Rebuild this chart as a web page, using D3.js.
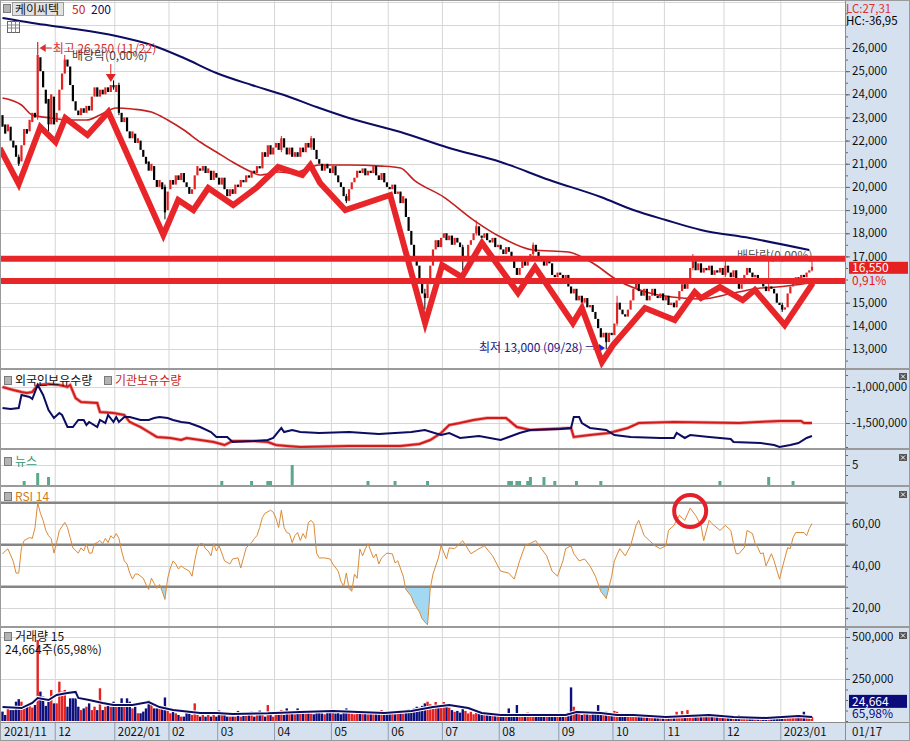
<!DOCTYPE html>
<html>
<head>
<meta charset="utf-8">
<script src="https://cdn.jsdelivr.net/npm/d3@7"></script>
<style>
body { margin: 0; background: #fff; }
</style>
</head>
<body>
<script>
// ---- data ----
var monthLabels = ["2021/11","12","2022/01","02","03","04","05","06","07","08","09","10","11","12","2023/01"];
var monthStarts = [0,20,42,62,80,101,122,143,163,184,206,226,245,267,288];

// daily [open, close], won
var nov21 = [[23100,22600],[22700,22300],[22400,22700],[22600,22000],[22000,21700],[21800,21300],[21300,21000],[21100,21800],[21800,22500],[22500,22300],[22400,22900],[22800,23200],[23200,23000],[23000,25700],[25600,25000],[25000,24300],[24200,23600],[23800,22700],[22700,24000],[23900,22700]];
var dec21 = [[22800,23200],[23300,24200],[24200,24900],[24900,25500],[25500,25200],[25200,24400],[24400,23700],[23700,23300],[23300,23100],[23100,23400],[23400,23200],[23200,23500],[23500,23300],[23300,23900],[23900,24300],[24300,23900],[23900,24200],[24200,24000],[24000,24300],[24300,24100],[24100,24400],[24400,24300]];
var jan22 = [[24100,24400],[24400,23200],[23200,22800],[22800,23000],[23000,22400],[22400,22100],[22100,22400],[22300,21900],[21900,22100],[22000,21600],[21600,21300],[21300,21000],[21100,20700],[20700,21000],[20900,20300],[20300,20000],[20000,20300],[20200,19900],[20000,18900],[19000,19800]];
var feb22 = [[19900,20300],[20300,20100],[20100,20500],[20500,20300],[20300,20600],[20600,20200],[20200,20000],[20000,19700],[19700,19900],[19900,20500],[20500,20900],[20800,20700],[20700,20900],[20900,20600],[20600,20800],[20700,20300],[20300,20700],[20600,20400]];
var mar22 = [[20400,20100],[20100,20400],[20400,19900],[19900,19600],[19600,19900],[19900,19700],[19700,20100],[20100,20000],[20000,20300],[20300,20200],[20200,20500],[20500,20400],[20400,20700],[20700,20600],[20600,20900],[20900,20800],[20800,21500],[21500,21300],[21300,21800],[21800,21400],[21400,21700]];
var apr22 = [[21700,21900],[21900,21600],[21600,22100],[22100,21700],[21700,21400],[21400,21700],[21700,21300],[21300,21500],[21500,21300],[21300,21700],[21700,21500],[21500,21900],[21900,21700],[21700,22100],[22100,21600],[21600,21200],[21200,21000],[21000,20700],[20700,21000],[21000,20800],[20800,20600]];
var may22 = [[20600,20900],[20900,20500],[20500,20200],[20200,20000],[20000,19600],[19600,19400],[19400,19900],[19900,20200],[20200,20400],[20400,20700],[20700,20600],[20600,20800],[20800,20500],[20500,20700],[20700,20600],[20600,20900],[20900,20500],[20500,20300],[20300,20600],[20600,20200],[20200,20000]];
var jun22 = [[20000,19900],[19900,20100],[20100,19700],[19700,19800],[19800,19300],[19300,19600],[19500,18700],[18700,18100],[18100,17500],[17500,17000],[17000,16600],[16600,16000],[16000,15400],[15400,15200],[15200,15800],[15800,16600],[16600,17300],[17300,17700],[17700,17400],[17400,17800]];
var jul22 = [[17800,18000],[18000,17700],[17700,17900],[17900,17500],[17500,17800],[17800,17600],[17600,17400],[17400,16800],[16800,16900],[16900,17500],[17500,17700],[17700,18000],[18000,18300],[18300,17900],[17900,17800],[17800,18000],[18000,17700],[17700,17600],[17600,17800],[17800,17400],[17400,17500]];
var aug22 = [[17500,17300],[17300,17100],[17100,17400],[17400,17200],[17200,16900],[16900,16500],[16500,16200],[16200,16500],[16500,16800],[16800,16600],[16600,16900],[16900,17100],[17100,17500],[17500,17200],[17200,17000],[17000,16800],[16800,16600],[16600,16900],[16900,16700],[16700,16200],[16200,16100],[16100,16300]];
var sep22 = [[16300,16200],[16200,16000],[16000,16200],[16200,15700],[15700,15400],[15400,15600],[15600,15100],[15100,15300],[15300,15000],[15000,15200],[15200,14800],[14800,14900],[14900,14600],[14600,14300],[14300,13900],[13900,13500],[13500,13700],[13700,13300],[13300,13700],[13700,13600]];
var oct22 = [[13600,14100],[14100,15000],[15000,14700],[14700,14500],[14500,14400],[14400,14700],[14700,15100],[15100,15600],[15600,15900],[15900,15500],[15500,15300],[15300,15600],[15600,15100],[15100,15300],[15300,15600],[15600,15300],[15300,15200],[15200,15400],[15400,15100]];
var nov22 = [[15100,15300],[15300,14900],[14900,15000],[15000,14800],[14800,15100],[15100,15500],[15500,15800],[15800,15600],[15600,16000],[16000,16500],[16500,16900],[16900,16400],[16400,16700],[16700,16300],[16300,16500],[16500,16400],[16400,16600],[16600,16200],[16200,16400],[16400,16300],[16300,16500],[16500,16200]];
var dec22 = [[16200,16600],[16600,16300],[16300,16100],[16100,16400],[16400,16000],[16000,15600],[15600,15800],[15800,16200],[16200,16500],[16500,16300],[16300,16100],[16100,16200],[16200,15900],[15900,16000],[16000,15700],[15700,15500],[15500,15700],[15700,15600],[15600,15400],[15400,15000],[15000,14900]];
var jan23 = [[14900,14700],[14700,14800],[14800,15400],[15400,15700],[15700,15900],[15900,16100],[16100,16000],[16000,16200],[16200,16100],[16100,16300],[16300,16400],[16400,16550]];

// [day, high, low] for the days with visible shadows
var wicks = [[6,21400,20900],[13,26250,22900],[17,23800,22400],[23,25700,24900],[41,24600,24200],[43,24500,23100],[60,20100,18600],[103,22200,21500],[114,22200,21600],[127,19700,19300],[156,15600,14700],[170,17500,16400],[175,18550,17900],[196,17600,17000],[223,13700,13000],[227,15300,14000],[255,17100,16400],[267,16900,16100],[283,16800,15500],[288,15000,14600],[299,16800,16350]];

// daily volume, thousands of shares
var vNov21 = [56,36,85,65,65,115,130,115,80,95,95,80,95,482,175,145,90,115,185,105];
var vDec21 = [105,234,175,185,85,135,135,135,85,65,75,85,105,65,85,65,195,65,85,95,85,115];
var vJan22 = [95,95,135,95,135,115,75,85,46,46,56,75,125,95,75,75,95,75,140,65];
var vFeb22 = [46,56,46,36,26,26,56,46,36,105,36,26,36,26,46,26,36,26];
var vMar22 = [62,36,36,26,26,26,26,60,26,30,30,36,56,26,36,62,36,26,95,36,26];
var vApr22 = [56,36,65,36,75,45,50,40,75,45,55,50,60,45,40,50,55,45,40,50,60];
var vMay22 = [60,45,55,40,50,75,55,45,40,50,60,45,50,40,55,45,50,40,65,45,50];
var vJun22 = [45,55,40,50,65,45,60,70,65,75,85,80,90,105,115,100,95,113,85,90];
var vJul22 = [113,95,80,65,55,60,50,75,60,45,55,40,50,65,45,40,50,36,45,40,36];
var vAug22 = [36,45,40,75,40,36,95,45,40,36,50,45,40,36,45,40,36,45,40,36,40,45];
var vSep22 = [40,36,45,50,200,85,45,40,36,45,40,36,45,50,95,50,45,55,40,45];
var vOct22 = [60,55,40,36,30,35,40,30,36,30,25,30,28,25,30,26,24,30,25];
var vNov22 = [25,30,28,26,55,35,60,30,65,40,35,30,28,36,30,40,28,25,30,26,28,25];
var vDec22 = [28,26,24,30,26,36,28,25,26,24,28,25,22,26,24,25,22,28,24,26,25];
var vJan23 = [30,26,28,25,30,28,26,24,55,26,30,24.664];

// [day, value] readings of the indicator lines
var ma50 = [[0,23840],[7,23538],[11,23106],[18,22976],[24,22890],[31,22890],[36,23106],[42,23408],[48,23365],[55,23235],[61,22890],[67,22458],[73,21939],[79,21507],[85,21075],[92,20643],[95,20514],[102,20643],[107,20600],[114,20859],[117,20946],[128,20946],[140,20900],[147,20816],[152,20298],[163,19563],[174,18570],[184,17835],[196,17274],[209,17187],[218,16712],[227,15978],[239,15416],[251,15200],[258,15157],[270,15416],[280,15632],[286,15675],[298,15848]];
var ma200 = [[0,27296],[11,27080],[24,26864],[42,26518],[55,26130],[67,25568],[79,24920],[92,24402],[104,23970],[116,23451],[128,22976],[147,22371],[165,21680],[184,21075],[202,20298],[221,19563],[233,19002],[245,18570],[258,18138],[276,17792],[298,17274]];
var volMa = [[0,83],[7,77],[11,107],[13,137],[17,125],[20,155],[24,167],[27,173],[28,137],[32,125],[37,107],[41,95],[48,95],[54,113],[58,83],[63,65],[73,48],[79,48],[85,42],[98,46],[110,54],[122,60],[141,48],[151,60],[159,83],[165,95],[172,77],[177,48],[184,36],[196,36],[208,36],[212,54],[221,48],[227,36],[233,36],[245,24],[261,36],[270,24],[282,18],[294,30],[299,24]];
var rsi = [[0,45.6],[1,47],[2,48],[4,42],[5,36.5],[6,36.5],[7,48.5],[8,52],[10,53.4],[11,53],[12,58],[13,70],[14,65],[15,61.6],[16,56.8],[17,54.3],[18,52.9],[19,46],[20,51],[21,56.8],[23,60.6],[24,58.2],[25,53.4],[26,48.5],[28,46],[29,48.5],[30,47],[31,50.5],[32,46],[33,46],[34,50.5],[35,51],[36,52],[37,50.5],[38,53],[39,51],[40,54.3],[41,53],[42,55.3],[43,53],[44,47],[45,42.3],[46,40.8],[47,36.5],[48,33.6],[49,36],[50,36],[52,34],[53,31],[54,28.7],[55,34],[56,31.6],[57,29.2],[58,31],[59,27.8],[60,23.9],[61,34],[62,38.9],[63,42.3],[64,40.8],[65,38.4],[66,39.9],[67,38.9],[69,37.4],[70,35],[71,42.3],[72,48.5],[73,50.5],[74,50.5],[75,48],[76,47],[77,44.7],[78,50.5],[79,47],[80,49.5],[81,46],[82,42.3],[84,40.8],[85,43.2],[87,43.7],[88,38.9],[89,43.7],[90,48.5],[92,51],[93,52.9],[94,54.3],[95,58.2],[96,63],[97,65],[99,66.4],[100,65.5],[101,62.6],[102,58.2],[103,66.4],[104,58.2],[105,55.8],[106,55.3],[107,51],[108,54.3],[109,55.8],[110,52],[111,55.3],[112,53],[113,60.6],[114,61.6],[115,60],[116,46],[117,43.7],[119,43.7],[121,43.2],[122,40.8],[124,37.4],[125,32.6],[126,30.2],[127,36.5],[128,29.2],[129,27.8],[130,36],[131,34],[132,48],[133,44.7],[134,48],[135,50.5],[137,43.7],[138,45.6],[139,40.8],[140,43.7],[142,46],[144,45.6],[145,41.3],[146,42.3],[148,35],[149,28.7],[151,25.4],[152,22],[154,18],[155,14.7],[157,11.8],[158,29.2],[159,36],[161,43.7],[162,49.5],[164,43.2],[165,48.5],[167,48.1],[170,51.9],[173,45.7],[176,48.1],[178,49.5],[181,44.7],[184,37.4],[187,36.5],[189,33.6],[191,42.3],[193,49.5],[197,51.9],[199,48.1],[201,44.7],[203,37.4],[205,35],[207,42.3],[208,48.1],[210,49.5],[211,45.7],[213,42.3],[215,43.2],[217,39.9],[219,35],[221,27.8],[223,24.4],[225,35],[226,42.3],[228,48.1],[230,44.7],[232,49.5],[234,59.2],[235,61.6],[237,54.3],[239,51.9],[241,49.5],[243,48.1],[245,49.5],[246,56.8],[248,59.2],[250,64],[252,61.6],[254,67.4],[256,64],[258,59.2],[259,51.9],[261,61.6],[262,60.1],[265,56.8],[267,59.2],[269,56.8],[270,50.5],[271,45.7],[272,45.7],[274,48.6],[275,56.8],[277,55.3],[278,50.5],[279,48.6],[280,45.7],[281,46.1],[282,39.9],[284,45.7],[285,42.3],[287,33.6],[288,38.9],[290,48.6],[291,48.1],[292,53.4],[293,55.8],[296,55.8],[297,54.3],[298,57.7],[299,60.1]];
var foreignHold = [[0,-1292],[3,-1306],[6,-1292],[7,-1111],[10,-1139],[11,-1167],[13,-972],[15,-1111],[17,-1319],[19,-1431],[21,-1361],[22,-1389],[24,-1556],[26,-1556],[28,-1458],[30,-1458],[31,-1528],[32,-1486],[35,-1556],[36,-1458],[38,-1500],[39,-1389],[41,-1486],[42,-1417],[43,-1486],[45,-1417],[47,-1417],[51,-1458],[54,-1458],[56,-1431],[58,-1417],[61,-1431],[63,-1458],[66,-1486],[69,-1500],[73,-1556],[77,-1625],[79,-1694],[83,-1694],[85,-1764],[93,-1750],[98,-1736],[100,-1708],[103,-1569],[104,-1625],[107,-1597],[110,-1625],[117,-1639],[128,-1625],[139,-1653],[151,-1625],[156,-1597],[162,-1667],[165,-1639],[169,-1708],[176,-1681],[184,-1736],[187,-1694],[191,-1639],[195,-1597],[206,-1583],[210,-1569],[211,-1417],[213,-1417],[214,-1500],[217,-1569],[223,-1597],[226,-1667],[232,-1694],[243,-1708],[248,-1708],[249,-1639],[252,-1708],[254,-1667],[261,-1694],[269,-1722],[270,-1764],[280,-1778],[285,-1806],[287,-1833],[291,-1806],[294,-1778],[297,-1708],[299,-1681]];
var instHold = [[0,-1000],[4,-1042],[7,-1069],[9,-1083],[11,-1069],[13,-972],[17,-958],[21,-972],[24,-1000],[25,-972],[27,-1153],[29,-1208],[35,-1222],[36,-1347],[41,-1361],[45,-1389],[47,-1486],[51,-1556],[54,-1625],[57,-1694],[62,-1708],[66,-1736],[68,-1708],[73,-1736],[78,-1764],[82,-1806],[85,-1750],[93,-1750],[98,-1764],[101,-1806],[105,-1819],[110,-1833],[128,-1819],[147,-1819],[154,-1792],[158,-1736],[162,-1639],[165,-1528],[169,-1500],[174,-1458],[179,-1431],[186,-1431],[190,-1556],[195,-1597],[202,-1583],[210,-1569],[211,-1694],[217,-1667],[224,-1639],[231,-1569],[235,-1500],[248,-1486],[272,-1500],[279,-1486],[287,-1472],[295,-1472],[296,-1500],[299,-1500]];
var news = [[8,1],[13,3],[17,2],[81,1],[92,1],[98,1],[99,1],[107,5],[135,1],[145,1],[157,1],[187,1],[188,1],[190,1],[191,1],[194,1],[195,2],[200,2],[204,1],[212,1],[221,1],[265,1],[283,2],[292,1]];

// hand-drawn red annotations: [day, price]
var zigzag = [[-1,21680],[6,20125],[14,22587],[19.6,21939],[23.2,22976],[31.4,22242],[39.1,23235],[59.4,17922],[64.9,19434],[70.5,19002],[76,19952],[85.2,19218],[94.1,19995],[101.8,20859],[110.7,20514],[113.7,20946],[117.3,20168],[126.6,19002],[143.2,19650],[156.1,14120],[162.4,16626],[169.7,16107],[177.1,17576],[190.4,15416],[196.7,16539],[210.7,14120],[214,14768],[221.4,12435],[225.5,13170],[237.3,14768],[248.3,14250],[255.7,15459],[258,15200],[265,15675],[273.4,15114],[277.9,15546],[288.9,14034],[299.3,15848]];
var levels = [16900, 15940];
// 27,000 and 16,000 are hidden behind the value tags in the picture
var priceTicks = [13000,14000,15000,17000,18000,19000,20000,21000,22000,23000,24000,25000,26000];

// ---- layout ----
var W = 910, H = 741, AX = 845;
var FONT = "'Noto Sans CJK KR','Noto Sans',sans-serif";
var RED = "#e42222", NAVY = "#0c0c62", AXBG = "#d6e1ef", GRID = "#d6d6d6";

var x = d3.scaleLinear().domain([0, 299]).range([2.5, 812]);
var yMain = d3.scaleLinear().domain([26000, 13000]).range([48, 349]);
var yFor = d3.scaleLinear().domain([-1000, -1500]).range([387, 423]);
var yNews = d3.scaleLinear().domain([0, 5]).range([485, 465]);
var yRsi = d3.scaleLinear().domain([70, 30]).range([502.7, 586.7]);
var yVol = d3.scaleLinear().domain([0, 500]).range([721, 637]);

var candles = [].concat(nov21, dec21, jan22, feb22, mar22, apr22, may22, jun22, jul22, aug22, sep22, oct22, nov22, dec22, jan23);
var volume = [].concat(vNov21, vDec21, vJan22, vFeb22, vMar22, vApr22, vMay22, vJun22, vJul22, vAug22, vSep22, vOct22, vNov22, vDec22, vJan23);
var wickMap = {};
wicks.forEach(function(w) { wickMap[w[0]] = w; });
var days = candles.map(function(c, i) {
    var w = wickMap[i];
    return { i: i, o: c[0], c: c[1], v: volume[i],
        h: w ? w[1] : Math.max(c[0], c[1]), l: w ? w[2] : Math.min(c[0], c[1]) };
});

var svg = d3.select("body").append("svg")
    .attr("width", W).attr("height", H)
    .style("font-family", FONT).style("font-size", "12px");

svg.append("rect").attr("width", W).attr("height", H).attr("fill", "#fff");
svg.append("rect").attr("x", AX).attr("y", 0).attr("width", W - AX).attr("height", H).attr("fill", AXBG);
svg.append("rect").attr("x", 0).attr("y", 722).attr("width", W).attr("height", 19).attr("fill", AXBG);

var panels = [
    { name: "main", y0: 0, y1: 369 },
    { name: "foreign", y0: 370, y1: 449 },
    { name: "news", y0: 450, y1: 486 },
    { name: "rsi", y0: 487, y1: 627 },
    { name: "vol", y0: 628, y1: 722 }
];
var defs = svg.append("defs");
panels.forEach(function(p) {
    defs.append("clipPath").attr("id", "clip-" + p.name)
        .append("rect").attr("x", 0).attr("y", p.y0).attr("width", AX).attr("height", p.y1 - p.y0);
});
function layer(name) { return svg.append("g").attr("clip-path", "url(#clip-" + name + ")"); }

// vertical month grid
var gridX = monthStarts.map(function(s) { return x(s) - 1.4; });
svg.append("g").selectAll("line").data(gridX.slice(1)).join("line")
    .attr("x1", function(d) { return d; }).attr("x2", function(d) { return d; })
    .attr("y1", 0).attr("y2", 722).attr("stroke", GRID);

function hgrid(g, scale, vals) {
    g.selectAll(null).data(vals).join("line")
        .attr("x1", 0).attr("x2", AX)
        .attr("y1", function(d) { return Math.round(scale(d)) + 0.5; })
        .attr("y2", function(d) { return Math.round(scale(d)) + 0.5; })
        .attr("stroke", GRID);
}

// ---- main panel ----
var gm = layer("main");
hgrid(gm, yMain, d3.range(13000, 28001, 1000));

var maLine = d3.line().x(function(d) { return x(d[0]); }).y(function(d) { return yMain(d[1]); }).curve(d3.curveMonotoneX);
gm.append("path").attr("d", maLine(ma200)).attr("fill", "none").attr("stroke", NAVY).attr("stroke-width", 2);
gm.append("path").attr("d", maLine(ma50)).attr("fill", "none").attr("stroke", "#c42020").attr("stroke-width", 1.6);

gm.selectAll("line.wick").data(days.filter(function(d) { return d.h > Math.max(d.o, d.c) || d.l < Math.min(d.o, d.c); }))
    .join("line").attr("class", "wick")
    .attr("x1", function(d) { return x(d.i); }).attr("x2", function(d) { return x(d.i); })
    .attr("y1", function(d) { return yMain(d.h); }).attr("y2", function(d) { return yMain(d.l); })
    .attr("stroke", function(d) { return d.c >= d.o ? RED : "#000"; });
gm.selectAll("rect.body").data(days).join("rect").attr("class", "body")
    .attr("x", function(d) { return x(d.i) - 1.1; }).attr("width", 2.2)
    .attr("y", function(d) { return yMain(Math.max(d.o, d.c)); })
    .attr("height", function(d) { return Math.max(1, Math.abs(yMain(d.o) - yMain(d.c))); })
    .attr("fill", function(d) { return d.c >= d.o ? RED : "#000"; });

// text annotations
gm.append("line").attr("x1", x(13)).attr("x2", x(13)).attr("y1", 42).attr("y2", 54).attr("stroke", "#d83030");
gm.append("path").attr("d", "M" + (x(13) + 2) + ",48 l6,-4 l0,8 z").attr("fill", "#d83030");
gm.append("line").attr("x1", x(13) + 6).attr("x2", x(13) + 14).attr("y1", 48).attr("y2", 48).attr("stroke", "#d83030");
gm.append("text").attr("x", x(13) + 15).attr("y", 52.5).attr("fill", "#d83030").text("최고 26,250 (11/22)");
gm.append("text").attr("x", 72).attr("y", 60).attr("fill", "#444").text("배당락(0,00%)");
gm.append("line").attr("x1", x(40)).attr("x2", x(40)).attr("y1", 64).attr("y2", 75).attr("stroke", RED);
gm.append("path").attr("d", "M" + (x(40) - 5) + ",74 l10,0 l-5,8 z").attr("fill", RED);
gm.append("text").attr("x", 479).attr("y", 352).attr("fill", "#20208a").text("최저 13,000 (09/28) →");
gm.append("path").attr("d", "M599,344 l6,4 l-6,4 z").attr("fill", "#1a2ad0");
gm.append("text").attr("x", 737).attr("y", 260).attr("fill", "#555").text("배당락(0,00%)");

// hand-drawn lines
var annLine = d3.line().x(function(d) { return x(d[0]); }).y(function(d) { return yMain(d[1]); });
gm.selectAll("line.level").data(levels).join("line").attr("class", "level")
    .attr("x1", 0).attr("x2", AX)
    .attr("y1", function(d) { return yMain(d); }).attr("y2", function(d) { return yMain(d); })
    .attr("stroke", "#e8262a").attr("stroke-width", 6);
gm.append("path").attr("d", annLine(zigzag)).attr("fill", "none")
    .attr("stroke", "#e8262a").attr("stroke-width", 6).attr("stroke-linejoin", "miter").attr("stroke-miterlimit", 6);

// ---- foreign / institution holdings ----
var gf = layer("foreign");
hgrid(gf, yFor, [-1000, -1500]);
var holdLine = d3.line().x(function(d) { return x(d[0]); }).y(function(d) { return yFor(d[1]); });
gf.append("path").attr("d", holdLine(instHold)).attr("fill", "none").attr("stroke", "#f2a0a0").attr("stroke-width", 3.5);
gf.append("path").attr("d", holdLine(instHold)).attr("fill", "none").attr("stroke", "#d21c1c").attr("stroke-width", 2);
gf.append("path").attr("d", holdLine(foreignHold)).attr("fill", "none").attr("stroke", NAVY).attr("stroke-width", 2);

// ---- news ----
var gn = layer("news");
hgrid(gn, yNews, [5]);
gn.selectAll("rect").data(news).join("rect")
    .attr("x", function(d) { return x(d[0]) - 1.5; }).attr("width", 3)
    .attr("y", function(d) { return yNews(d[1]); })
    .attr("height", function(d) { return yNews(0) - yNews(d[1]); })
    .attr("fill", "#5aa98a");

// ---- RSI ----
var gr = layer("rsi");
hgrid(gr, yRsi, [60, 40, 20]);
var rsiArea = d3.area().x(function(d) { return x(d[0]); }).y0(yRsi(30)).y1(function(d) { return yRsi(d[1]); });
defs.append("clipPath").attr("id", "clip-oversold").append("rect")
    .attr("x", 0).attr("y", yRsi(30)).attr("width", AX).attr("height", 627 - yRsi(30));
gr.append("path").attr("d", rsiArea(rsi)).attr("fill", "#a3d8f2").attr("clip-path", "url(#clip-oversold)");
gr.selectAll("line.lvl").data([70, 50, 30]).join("line").attr("class", "lvl")
    .attr("x1", 0).attr("x2", AX)
    .attr("y1", function(d) { return yRsi(d); }).attr("y2", function(d) { return yRsi(d); })
    .attr("stroke", "#858585").attr("stroke-width", 2.5);
var rsiLine = d3.line().x(function(d) { return x(d[0]); }).y(function(d) { return yRsi(d[1]); });
gr.append("path").attr("d", rsiLine(rsi)).attr("fill", "none").attr("stroke", "#dc8a36").attr("stroke-width", 1);
gr.append("circle").attr("cx", x(254)).attr("cy", yRsi(66)).attr("r", 16)
    .attr("fill", "none").attr("stroke", "#e4202a").attr("stroke-width", 4);

// ---- volume ----
var gv = layer("vol");
hgrid(gv, yVol, [500, 250]);
gv.selectAll("rect").data(days).join("rect")
    .attr("x", function(d) { return x(d.i) - 1.2; }).attr("width", 2.4)
    .attr("y", function(d) { return yVol(d.v); })
    .attr("height", function(d) { return yVol(0) - yVol(d.v); })
    .attr("fill", function(d) { return d.c >= d.o ? RED : "#10107c"; });
var volLine = d3.line().x(function(d) { return x(d[0]); }).y(function(d) { return yVol(d[1]); });
gv.append("path").attr("d", volLine(volMa)).attr("fill", "none").attr("stroke", "#fff").attr("stroke-width", 4);
gv.append("path").attr("d", volLine(volMa)).attr("fill", "none").attr("stroke", NAVY).attr("stroke-width", 2);

// ---- right axes ----
function rightAxis(scale, majors, minors, fmt) {
    var gmin = svg.append("g").attr("transform", "translate(" + AX + ",0)")
        .call(d3.axisRight(scale).tickValues(minors).tickSize(3).tickFormat(""));
    var gmaj = svg.append("g").attr("transform", "translate(" + AX + ",0)")
        .call(d3.axisRight(scale).tickValues(majors).tickSize(5).tickPadding(2).tickFormat(fmt));
    [gmin, gmaj].forEach(function(g) {
        g.select(".domain").remove();
        g.selectAll("line").attr("stroke", "#666");
        g.attr("font-family", FONT).attr("font-size", 11.5);
        g.selectAll("text").attr("fill", "#111");
    });
}
function comma(d) { return d3.format(",")(d).replace("\u2212", "-"); }
rightAxis(yMain, priceTicks, d3.range(12500, 28000, 500), comma);
rightAxis(yFor, [-1000, -1500], d3.range(-1833.33, -700, 166.667), function(d) { return comma(d * 1000); });
rightAxis(yNews, [5], [0, 2.5, 7.5], function(d) { return d; });
rightAxis(yRsi, [60, 40, 20], d3.range(10, 80, 5), function(d) { return d.toFixed(2).replace(".", ","); });
rightAxis(yVol, [500, 250], d3.range(0, 560, 62.5), function(d) { return comma(d * 1000); });

// ---- separators ----
[369, 449, 486, 627].forEach(function(y) {
    svg.append("line").attr("x1", 0).attr("x2", W).attr("y1", y).attr("y2", y)
        .attr("stroke", "#9a9a9a").attr("stroke-width", 2);
});
svg.append("line").attr("x1", 0).attr("x2", W).attr("y1", 722.5).attr("y2", 722.5).attr("stroke", "#8c8c8c");
svg.append("line").attr("x1", AX + 0.5).attr("x2", AX + 0.5).attr("y1", 0).attr("y2", H).attr("stroke", "#8c8c8c");
svg.append("rect").attr("x", 0.5).attr("y", 0.5).attr("width", W - 1).attr("height", H - 1)
    .attr("fill", "none").attr("stroke", "#9a9a9a");

// ---- x axis strip ----
var gx = svg.append("g");
gx.selectAll("line").data(gridX.slice(1)).join("line")
    .attr("x1", function(d) { return d; }).attr("x2", function(d) { return d; })
    .attr("y1", 723).attr("y2", H).attr("stroke", "#8e9bb0");
gx.selectAll("text").data(monthLabels).join("text")
    .attr("x", function(d, i) { return Math.max(4, gridX[i] + 3); }).attr("y", 736)
    .attr("font-size", 11.5).attr("fill", "#111").text(function(d) { return d; });
svg.append("text").attr("x", 852).attr("y", 736).attr("font-size", 11.5).attr("fill", "#111").text("01/17");

// ---- right-side value tags ----
svg.append("text").attr("x", 846).attr("y", 12.5).attr("fill", "#e03030").attr("font-size", 11.5).text("LC:27,31");
svg.append("text").attr("x", 846).attr("y", 25).attr("fill", "#000").attr("font-size", 11.5).text("HC:\u201136,95");
var tagY = yMain(16550) + 1;
svg.append("rect").attr("x", 849).attr("y", tagY - 6).attr("width", 59).attr("height", 12).attr("fill", "#e42020");
svg.append("text").attr("x", 852).attr("y", tagY + 4.5).attr("fill", "#fff").attr("font-size", 12).text("16,550");
svg.append("text").attr("x", 852).attr("y", tagY + 17).attr("fill", "#e42020").attr("font-size", 12).text("0,91%");
svg.append("rect").attr("x", 849).attr("y", yVol(24.664) - 22).attr("width", 58).attr("height", 13).attr("fill", "#0a0a78");
svg.append("text").attr("x", 852).attr("y", yVol(24.664) - 11).attr("fill", "#fff").attr("font-size", 12).text("24,664");
svg.append("text").attr("x", 852).attr("y", yVol(24.664) + 1).attr("fill", "#0a0a78").attr("font-size", 12).text("65,98%");

// close buttons
[373, 454, 491, 632].forEach(function(y) {
    var g = svg.append("g").attr("transform", "translate(899," + y + ")");
    g.append("rect").attr("width", 8).attr("height", 7).attr("fill", "#555");
    g.append("path").attr("d", "M2,1.5 L6,5.5 M6,1.5 L2,5.5").attr("stroke", "#fff").attr("stroke-width", 1);
});

// ---- panel titles ----
function bullet(px, py) {
    svg.append("rect").attr("x", px).attr("y", py).attr("width", 7).attr("height", 8)
        .attr("fill", "#b4b4b4").attr("stroke", "#7a7a7a");
}
bullet(3.5, 4.5);
svg.append("rect").attr("x", 12.5).attr("y", 2.5).attr("width", 51).attr("height", 13)
    .attr("fill", "#e2e2e2").attr("stroke", "#9a9a9a");
svg.append("text").attr("x", 15).attr("y", 13.5).attr("fill", "#111").text("케이씨텍");
svg.append("text").attr("x", 72).attr("y", 13.5).attr("fill", "#d02020").text("50");
svg.append("text").attr("x", 91).attr("y", 13.5).attr("fill", NAVY).text("200");
var tbl = svg.append("g").attr("transform", "translate(7.5,21.5)");
tbl.append("rect").attr("width", 12).attr("height", 11).attr("fill", "#fff").attr("stroke", "#666");
tbl.append("path").attr("d", "M0,3.5 H12 M0,6.5 H12 M4,0 V11 M8,0 V11").attr("stroke", "#888").attr("stroke-width", 1);

bullet(4.5, 376.5);
svg.append("text").attr("x", 15).attr("y", 385).attr("fill", "#111").text("외국인보유수량");
bullet(104.5, 376.5);
svg.append("text").attr("x", 115).attr("y", 385).attr("fill", "#c81e1e").text("기관보유수량");
bullet(4.5, 457.5);
svg.append("text").attr("x", 15).attr("y", 466).attr("fill", "#3a9a7a").text("뉴스");
bullet(4.5, 492.5);
svg.append("text").attr("x", 15).attr("y", 501).attr("fill", "#d07a20").text("RSI 14");
bullet(4.5, 632.5);
svg.append("text").attr("x", 15).attr("y", 641).attr("fill", "#111").text("거래량  15");
svg.append("text").attr("x", 5).attr("y", 654).attr("fill", "#111").text("24,664주(65,98%)");
</script>
</body>
</html>
